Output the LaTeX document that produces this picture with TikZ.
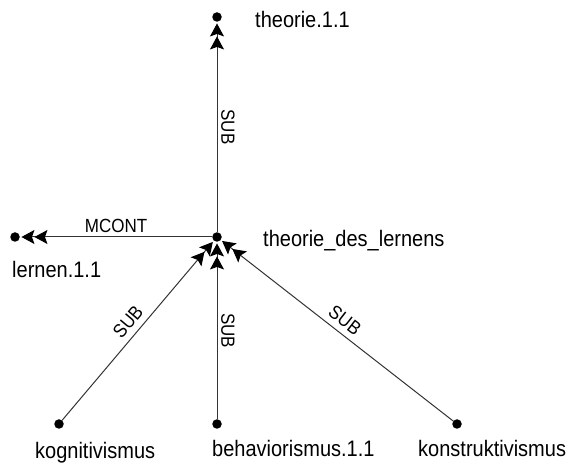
\documentclass[tikz,border=0pt]{standalone}
\usepackage{fontspec}
\setmainfont{Liberation Sans}
\usetikzlibrary{arrows.meta}
\newcommand\tallt[1]{\scalebox{1}[1.12]{#1}}
\begin{document}
\begin{tikzpicture}[x=1pt,y=-1pt,
  dot/.style={circle,fill=black,inner sep=0pt,minimum size=9.5pt},
  conn/.style={draw=black!80, line width=1pt},
  arr/.style={conn, -{Stealth[length=13pt,width=14pt,inset=2.5pt,color=black]Stealth[length=13pt,width=14pt,inset=2.5pt,color=black]}, shorten >=1.5pt},
  rel/.style={font=\fontsize{17}{17}\selectfont, inner sep=0pt},
  lbl/.style={font=\fontsize{20}{20}\selectfont, inner sep=0pt, anchor=base west}]
\useasboundingbox (0,0) rectangle (574,465);
\node[dot] (top) at (217,17) {};
\node[dot] (c) at (217,237) {};
\node[dot] (ler) at (15,237) {};
\node[dot] (kog) at (59,424) {};
\node[dot] (beh) at (217,424) {};
\node[dot] (kon) at (457,424) {};
\node[lbl] (ttop) at (255,28) {\tallt{theorie.1.1}};
\node[lbl] (tc) at (263,247) {\tallt{theorie\_des\_lernens}};
\node[lbl] (tler) at (12,278) {\tallt{lernen.1.1}};
\node[lbl] (tkog) at (35,459) {\tallt{kognitivismus}};
\node[lbl] (tbeh) at (212,457) {\tallt{behaviorismus.1.1}};
\node[lbl] (tkon) at (418,457) {\tallt{konstruktivismus}};
\draw[arr] (c) -- (top) node[rel, midway, xshift=11pt, rotate=-90] {\tallt{SUB}};
\draw[arr] (c) -- (ler) node[rel, midway, yshift=11pt] {\tallt{MCONT}};
\draw[arr] (kog) -- (c) node[rel, midway, xshift=-10pt, yshift=8.5pt, rotate=49.8] {\tallt{SUB}};
\draw[arr] (beh) -- (c) node[rel, midway, xshift=11pt, rotate=-90] {\tallt{SUB}};
\draw[arr] (kon) -- (c) node[rel, midway, xshift=8pt, yshift=10pt, rotate=-37.9] {\tallt{SUB}};
\end{tikzpicture}
\end{document}
